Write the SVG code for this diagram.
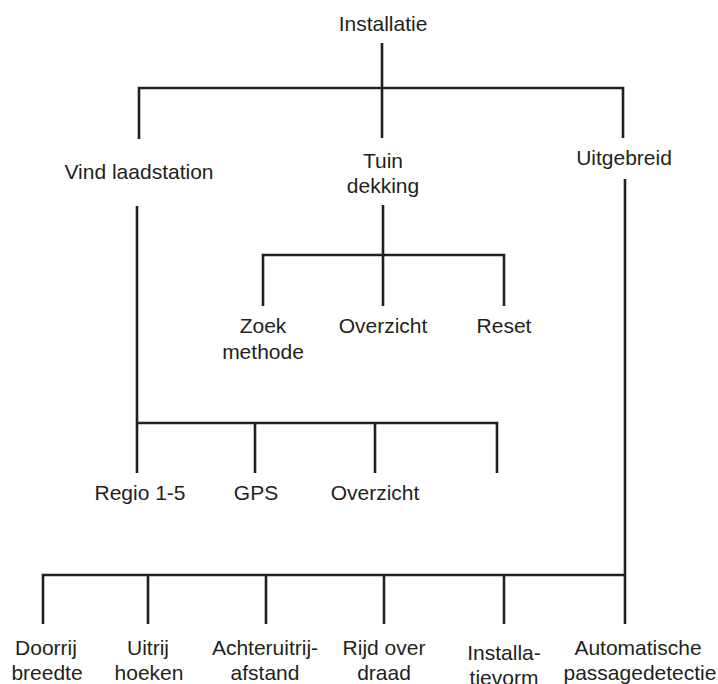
<svg xmlns="http://www.w3.org/2000/svg" width="718" height="684" viewBox="0 0 718 684">
<style>
text{font-family:"Liberation Sans",Arial,sans-serif;font-size:21px;fill:#231f20;text-anchor:middle}
.c{fill:none;stroke:#231f20;stroke-width:2.6;stroke-linecap:butt;stroke-linejoin:miter}
</style>
<rect width="718" height="684" fill="#fff"/>
<g id="connectors" class="c">
<path d="M382 43V138M139 139V88H623V138"/>
<path d="M383 205V306M263 306V255H504V306"/>
<path d="M137 206V473M255 473V423M375 473V423M497 473V423H137"/>
<path d="M625 179V574M43 624V575H625V624M148 624V575M266 624V575M384 624V575M504 624V575"/>
</g>
<g id="n-installatie"><text x="383" y="31">Installatie</text></g>
<g id="n-vind"><text x="139" y="179">Vind laadstation</text></g>
<g id="n-tuin"><text x="383" y="168">Tuin</text><text x="383" y="193">dekking</text></g>
<g id="n-uitgebreid"><text x="624" y="165">Uitgebreid</text></g>
<g id="n-zoek"><text x="263" y="333">Zoek</text><text x="263" y="359">methode</text></g>
<g id="n-overzicht1"><text x="383" y="333">Overzicht</text></g>
<g id="n-reset"><text x="504" y="333">Reset</text></g>
<g id="n-regio"><text x="140" y="500">Regio 1-5</text></g>
<g id="n-gps"><text x="256" y="500">GPS</text></g>
<g id="n-overzicht2"><text x="375" y="500">Overzicht</text></g>
<g id="n-doorrij"><text x="46" y="655">Doorrij</text><text x="47" y="680">breedte</text></g>
<g id="n-uitrij"><text x="148" y="655">Uitrij</text><text x="149" y="680">hoeken</text></g>
<g id="n-achteruitrij"><text x="265" y="655">Achteruitrij-</text><text x="265" y="680">afstand</text></g>
<g id="n-rijd"><text x="384" y="655">Rijd over</text><text x="384" y="680">draad</text></g>
<g id="n-installavorm"><text x="504" y="660">Installa-</text><text x="504" y="685">tievorm</text></g>
<g id="n-auto"><text x="638" y="655">Automatische</text><text x="640" y="680">passagedetectie</text></g>
</svg>
